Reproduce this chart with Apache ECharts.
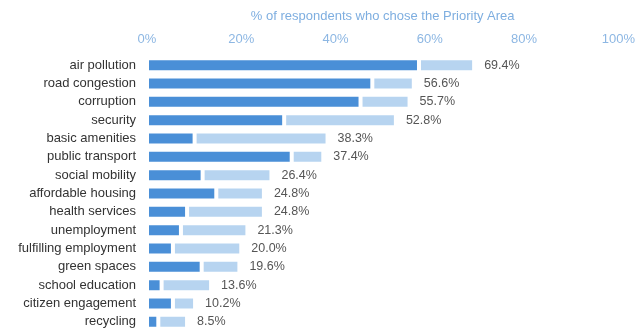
<!DOCTYPE html>
<html>
<head>
<meta charset="utf-8">
<script src="https://cdn.jsdelivr.net/npm/echarts@6/dist/echarts.min.js"></script>
<style>
  html, body { margin: 0; padding: 0; background: #fff; }
  #chart { width: 638px; height: 334px; }
</style>
</head>
<body>
<div id="chart"></div>
<script>
// Priority areas, top to bottom
const categories = [
  'air pollution', 'road congestion', 'corruption', 'security', 'basic amenities',
  'public transport', 'social mobility', 'affordable housing', 'health services',
  'unemployment', 'fulfilling employment', 'green spaces', 'school education',
  'citizen engagement', 'recycling'
];
// Share of respondents choosing the area (total bar length, labelled)
const totals = [69.4, 56.6, 55.7, 52.8, 38.3, 37.4, 26.4, 24.8, 24.8, 21.3, 20.0, 19.6, 13.6, 10.2, 8.5];
// Darker leading segment of each bar
const firstChoice = [57.7, 47.8, 45.3, 29.1, 10.1, 30.7, 11.8, 14.7, 8.5, 7.2, 5.5, 11.6, 3.1, 5.5, 2.4];
// Axis ticks
const tickValues = [0, 20, 40, 60, 80, 100];

const remainder = totals.map((t, i) => +(t - firstChoice[i]).toFixed(1));
const FONT = 'Liberation Sans, Arial, sans-serif';

const chart = echarts.init(document.getElementById('chart'), null, { renderer: 'canvas' });
chart.setOption({
  animation: false,
  grid: { left: 147, right: 16, top: 56, bottom: 3, containLabel: false },
  xAxis: {
    type: 'value',
    position: 'top',
    min: tickValues[0],
    max: tickValues[tickValues.length - 1],
    interval: tickValues[1] - tickValues[0],
    name: '% of respondents who chose the Priority Area',
    nameLocation: 'middle',
    nameGap: 33,
    nameTextStyle: { color: '#7eaee0', fontSize: 13, fontFamily: FONT },
    axisLine: { show: false },
    axisTick: { show: false },
    splitLine: { show: false },
    axisLabel: {
      formatter: '{value}%',
      color: '#8db7e3',
      fontSize: 13,
      margin: 10,
      fontFamily: FONT
    }
  },
  yAxis: {
    type: 'category',
    data: categories,
    inverse: true,
    axisLine: { show: false },
    axisTick: { show: false },
    axisLabel: {
      color: '#333',
      fontSize: 13,
      margin: 11,
      fontFamily: FONT
    }
  },
  series: [
    {
      type: 'bar',
      stack: 'total',
      data: firstChoice,
      barWidth: 14,
      itemStyle: { color: '#4a8fd7', borderColor: '#ffffff', borderWidth: 2 }
    },
    {
      type: 'bar',
      stack: 'total',
      data: remainder,
      barWidth: 14,
      itemStyle: { color: '#b7d4f0', borderColor: '#ffffff', borderWidth: 2 },
      label: {
        show: true,
        position: 'right',
        distance: 10,
        color: '#555',
        fontSize: 12.5,
        fontFamily: FONT,
        formatter: p => totals[p.dataIndex].toFixed(1) + '%'
      }
    }
  ]
});
</script>
</body>
</html>
